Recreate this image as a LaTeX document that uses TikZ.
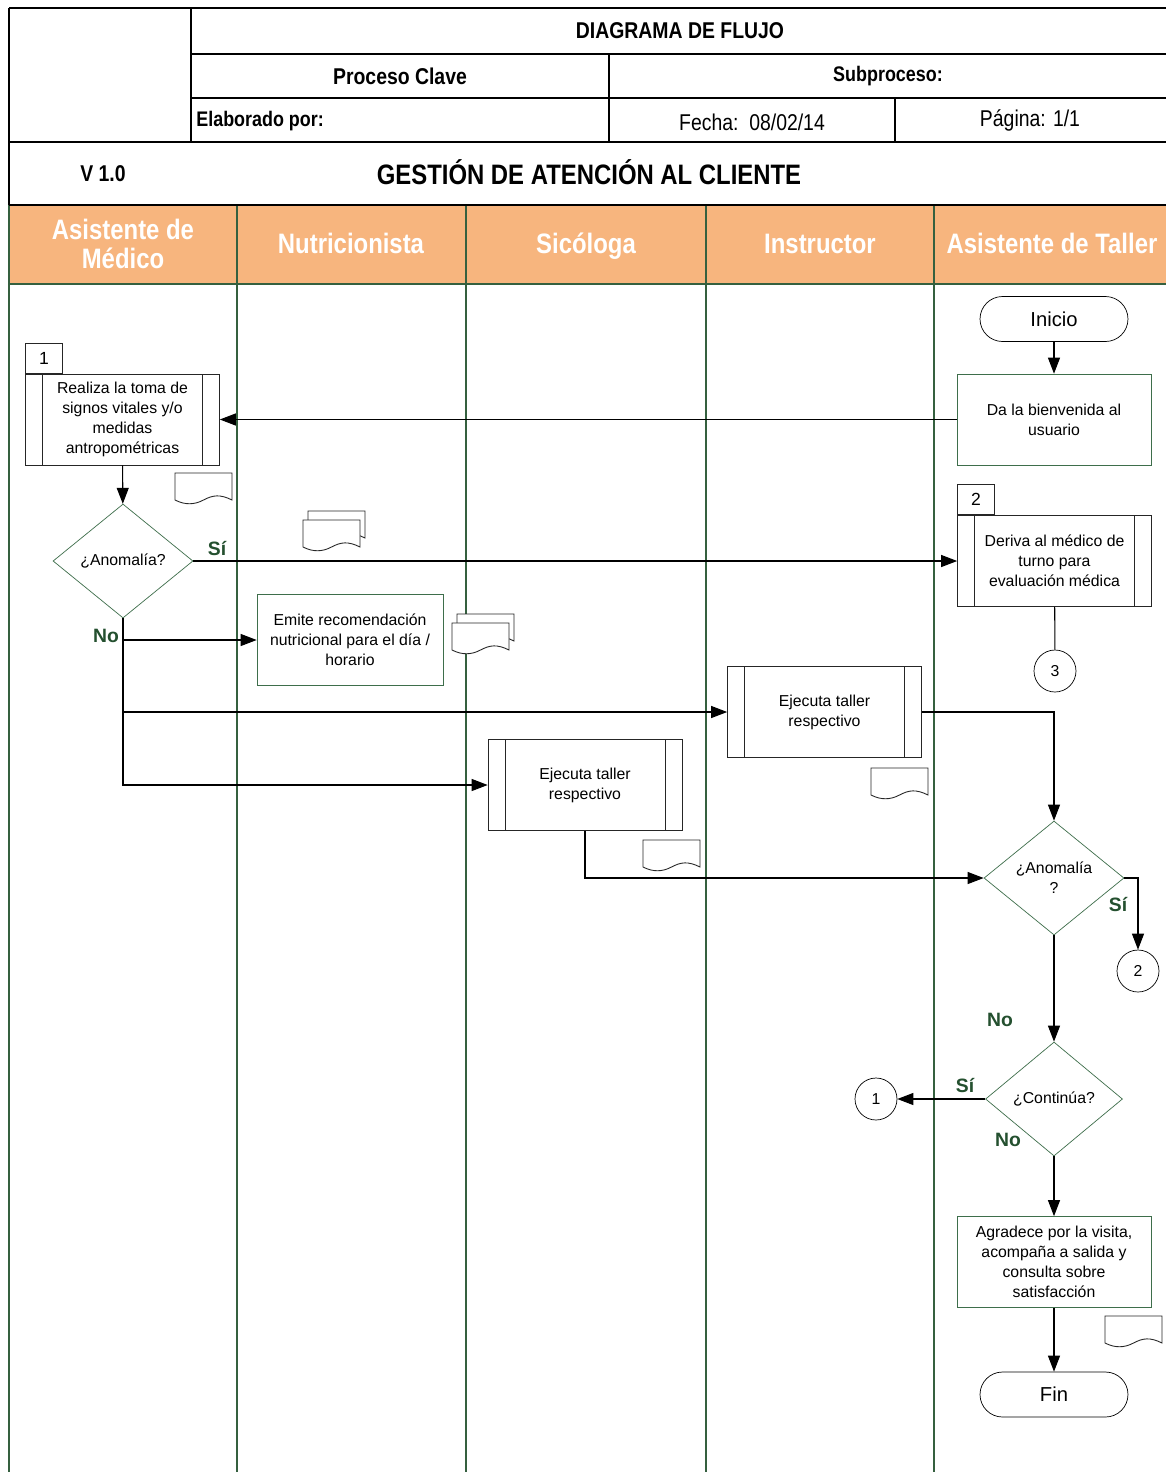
\documentclass[tikz,border=0pt]{standalone}
\usepackage{fontspec}
\usepackage{graphicx}
\setmainfont{Liberation Sans}
\usetikzlibrary{shapes.geometric,arrows.meta,positioning}

\definecolor{lanecol}{HTML}{F7B57E}
\definecolor{lanegreen}{HTML}{35603F}
\definecolor{boxgreen}{HTML}{3E6E4B}
\definecolor{labgreen}{HTML}{24502F}

\newcommand\nar[1]{\scalebox{0.85}[1]{#1}}

\tikzset{pnode/.style = {shape = rectangle,
                         draw = boxgreen,
                         minimum width = 3.88cm,
                         minimum height = 1.82cm,
                         inner sep = 1pt,
                         align = center,
                         font = \fontsize{9}{11.3}\selectfont},
         snode/.style = {pnode,
                         draw = black!85,
                         path picture = {\draw[black!85] ([xshift=0.34cm]path picture bounding box.north west) -- ([xshift=0.34cm]path picture bounding box.south west);
                                         \draw[black!85] ([xshift=-0.34cm]path picture bounding box.north east) -- ([xshift=-0.34cm]path picture bounding box.south east);}},
         dnode/.style = {shape = diamond,
                         draw = boxgreen,
                         minimum width = 2.8cm,
                         minimum height = 2.28cm,
                         inner sep = 0pt,
                         align = center,
                         font = \fontsize{9}{11.3}\selectfont},
         tnode/.style = {shape = rectangle,
                         rounded corners = 0.45cm,
                         draw = black,
                         minimum width = 2.96cm,
                         minimum height = 0.9cm,
                         font = \fontsize{11.5}{13}\selectfont},
         cnode/.style = {shape = circle,
                         draw = black,
                         minimum size = 0.84cm,
                         inner sep = 0pt,
                         font = \fontsize{9}{10}\selectfont},
         tabnode/.style = {shape = rectangle,
                           draw = black!85,
                           minimum width = 0.74cm,
                           minimum height = 0.6cm,
                           inner sep = 0pt,
                           anchor = south west,
                           font = \fontsize{10}{11}\selectfont},
         lnode/.style = {text = labgreen,
                         font = \bfseries\fontsize{11}{12}\selectfont},
         hnode/.style = {text = white,
                         align = center,
                         font = \bfseries\fontsize{16}{17}\selectfont},
         frame/.style = {draw = black, line width = 1.4pt},
         lane/.style = {draw = lanegreen, line width = 0.6pt},
         arr/.style = {draw = black, line width = 0.6pt, -{Triangle[length = 0.32cm, width = 0.24cm]}},
         docu/.pic = {\draw[black!85, fill = white, line width = 0.5pt] (0,0) -- (57,0) -- (57,27) .. controls (45,21) and (38,22) .. (28.5,27) .. controls (19,32) and (10,32) .. (0,27) -- cycle;},
         mdocu/.pic = {\pic at (5,-9) {docu};
                       \pic at (0,0) {docu};}}

\begin{document}
\begin{tikzpicture}[x = 0.02cm, y = {(0cm,-0.02cm)}]
	\useasboundingbox (0,0) rectangle (1166,1472);
	\fill[white] (0,0) rectangle (1166,1472);
	\fill[lanecol] (9,205) rectangle (1166,284);
	\foreach \lx in {9,237,466,706,934}
		\draw[lane] (\lx,205) -- (\lx,1472);
	\draw[lane] (9,284) -- (1166,284);

	\draw[frame] (9,8) -- (1166,8);
	\draw[frame] (9,8) -- (9,205);
	\draw[frame] (191,8) -- (191,142);
	\draw[frame] (191,54) -- (1166,54);
	\draw[frame] (191,98) -- (1166,98);
	\draw[frame] (609,54) -- (609,142);
	\draw[frame] (895,98) -- (895,142);
	\draw[frame] (9,142) -- (1166,142);
	\draw[frame] (9,205) -- (1166,205);

	\node[font=\bfseries\fontsize{13}{14}\selectfont] (titulo) at (680,31) {\nar{DIAGRAMA DE FLUJO}};
	\node[font=\bfseries\fontsize{13}{14}\selectfont] (proceso) at (400,76) {\nar{Proceso Clave}};
	\node[font=\bfseries\fontsize{12}{13}\selectfont] (subproceso) at (888,76) {\nar{Subproceso:}};
	\node[font=\bfseries\fontsize{12}{13}\selectfont, anchor=west, inner sep=0pt] (elaborado) at (196,121) {\nar{Elaborado por:}};
	\node[font=\fontsize{13}{14}\selectfont] (fecha) at (752,122) {\nar{Fecha:\ \ 08/02/14}};
	\node[font=\fontsize{13}{14}\selectfont] (pagina) at (1030,120) {\nar{Página: 1/1}};
	\node[font=\bfseries\fontsize{13}{14}\selectfont] (version) at (103,174) {\nar{V 1.0}};
	\node[font=\bfseries\fontsize{16}{17}\selectfont, anchor=base] (gestion) at (589,184) {\nar{GESTIÓN DE ATENCIÓN AL CLIENTE}};

	\node[hnode] (hmedico) at (123,244) {\nar{Asistente de}\\\nar{Médico}};
	\node[hnode, anchor=base] (hnutri) at (351,253) {\nar{Nutricionista}};
	\node[hnode, anchor=base] (hsico) at (586,253) {\nar{Sicóloga}};
	\node[hnode, anchor=base] (hinstr) at (820,253) {\nar{Instructor}};
	\node[hnode, anchor=base] (htaller) at (1052,253) {\nar{Asistente de Taller}};

	\node[tnode] (inicio) at (1054,319) {Inicio};
	\node[pnode] (bienvenida) at (1054,419.5) {Da la bienvenida al\\usuario};
	\node[snode] (signos) at (122.5,419.5) {Realiza la toma de\\signos vitales y/o\\medidas\\antropométricas};
	\node[tabnode] (tab1) at (signos.north west) {1};
	\node[dnode] (anom1) at (123,561) {¿Anomalía?};
	\node[snode] (deriva) at (1054.5,561) {Deriva al médico de\\turno para\\evaluación médica};
	\node[tabnode] (tab2) at (deriva.north west) {2};
	\node[cnode] (c3) at (1055,671) {3};
	\node[pnode, minimum width=3.72cm] (emite) at (350,640) {Emite recomendación\\nutricional para el día /\\horario};
	\node[snode] (ejeinstr) at (824.5,712) {Ejecuta taller\\respectivo};
	\node[snode] (ejesico) at (585,785) {Ejecuta taller\\respectivo};
	\node[dnode] (anom2) at (1054,878) {¿Anomalía\\?};
	\node[cnode] (c2) at (1138,971) {2};
	\node[dnode, minimum width=2.74cm] (continua) at (1054,1099) {¿Continúa?};
	\node[cnode] (c1) at (876,1099) {1};
	\node[pnode] (agradece) at (1054,1262) {Agradece por la visita,\\acompaña a salida y\\consulta sobre\\satisfacción};
	\node[tnode] (fin) at (1054,1394.5) {Fin};

	\pic at (175,473) {docu};
	\pic at (303,520) {mdocu};
	\pic at (452,623) {mdocu};
	\pic at (871,768) {docu};
	\pic at (643,840) {docu};
	\pic at (1105,1316) {docu};

	\draw[arr] (inicio) -- (bienvenida);
	\draw[arr] (bienvenida) -- (signos);
	\draw[arr] (signos) -- (anom1);
	\draw[arr] (anom1.east) -- (deriva.west);
	\draw[arr] (anom1.south) |- (emite.west);
	\draw[arr] (anom1.south) |- (ejeinstr.west);
	\draw[arr] (anom1.south) |- (ejesico.west);
	\draw[black, line width=0.6pt] (deriva) -- (c3);
	\draw[arr] (ejeinstr.east) -| (anom2.north);
	\draw[arr] (ejesico.south) |- (anom2.west);
	\draw[arr] (anom2.east) -| (c2.north);
	\draw[arr] (anom2) -- (continua);
	\draw[arr] (continua.west) -- (c1.east);
	\draw[arr] (continua) -- (agradece);
	\draw[arr] (agradece) -- (fin);

	\node[lnode] (si1) at (217,548) {Sí};
	\node[lnode] (no1) at (106,636) {No};
	\node[lnode] (si2) at (1118,904) {Sí};
	\node[lnode] (no2) at (1000,1020) {No};
	\node[lnode] (si3) at (965,1085) {Sí};
	\node[lnode] (no3) at (1008,1140) {No};
\end{tikzpicture}
\end{document}
